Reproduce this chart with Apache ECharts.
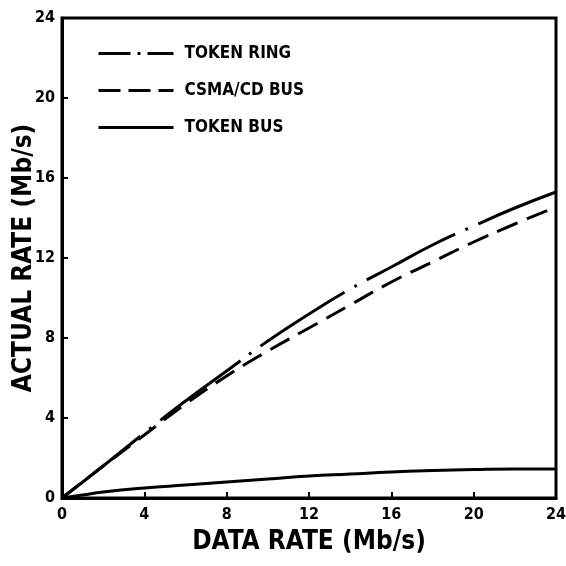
<!DOCTYPE html>
<html>
<head>
<meta charset="utf-8">
<script src="https://cdn.jsdelivr.net/npm/echarts@6/dist/echarts.min.js"></script>
<style>
  html, body { margin: 0; padding: 0; background: #fff; }
  #chart { width: 566px; height: 566px; }
</style>
</head>
<body>
<div id="chart"></div>
<script>
// values (Mb/s)
const dataRate = [0, 2, 4, 6, 8, 10, 12, 14, 16, 18, 20, 22, 24];
const tokenRing = [0, 1.6, 3.25, 4.85, 6.35, 7.85, 9.2, 10.45, 11.55, 12.65, 13.6, 14.5, 15.3];
const csmaBus = [0, 1.6, 3.15, 4.7, 6.1, 7.35, 8.5, 9.65, 10.8, 11.8, 12.8, 13.7, 14.55];
const tokenBusRate = [0, 1, 2, 4, 6, 8, 10, 12, 14, 16, 18, 20, 22, 24];
const tokenBus = [0, 0.15, 0.3, 0.5, 0.65, 0.8, 0.95, 1.1, 1.2, 1.3, 1.37, 1.42, 1.45, 1.45];
const seriesNames = ['TOKEN RING', 'CSMA/CD BUS', 'TOKEN BUS'];

const font = '"DejaVu Sans Condensed", "Liberation Sans Narrow", sans-serif';

function pairs(xs, ys) {
    return xs.map(function (x, i) {
        return [x, ys[i]];
    });
}

const myChart = echarts.init(document.getElementById('chart'), null, { renderer: 'canvas' });
const option = {
    backgroundColor: '#fff',
    animation: false,
    color: ['#000', '#000', '#000'],
    grid: {
        left: 62,
        right: 10,
        top: 18,
        bottom: 68,
        containLabel: false,
        outerBoundsMode: 'none',
        show: true,
        borderColor: '#000',
        borderWidth: 3,
    },
    legend: {
        orient: 'vertical',
        left: 97,
        top: 45,
        padding: 0,
        itemWidth: 75,
        itemHeight: 14,
        itemGap: 20,
        itemStyle: { color: 'rgba(0,0,0,0)', borderWidth: 0 },
        textStyle: {
            fontFamily: font,
            fontWeight: 'bold',
            fontSize: 17,
            color: '#000',
            padding: [0, 0, 0, 6],
        },
        data: [
            { name: seriesNames[0], lineStyle: { type: [32, 7, 3, 7], width: 3 } },
            { name: seriesNames[1], lineStyle: { type: [22, 8], width: 3 } },
            { name: seriesNames[2], lineStyle: { type: 'solid', width: 3 } },
        ],
    },
    xAxis: {
        type: 'value',
        min: 0,
        max: 24,
        interval: 4,
        name: 'DATA RATE (Mb/s)',
        nameLocation: 'middle',
        nameGap: 31,
        nameMoveOverlap: false,
        nameTextStyle: {
            fontFamily: font,
            fontWeight: 'bold',
            fontSize: 26,
            color: '#000',
        },
        axisLine: { lineStyle: { color: '#000', width: 3 } },
        axisTick: { inside: true, length: 6, lineStyle: { color: '#000', width: 2 } },
        axisLabel: {
            margin: 9,
            fontFamily: font,
            fontWeight: 'bold',
            fontSize: 16,
            color: '#000',
        },
        splitLine: { show: false },
    },
    yAxis: {
        type: 'value',
        min: 0,
        max: 24,
        interval: 4,
        name: 'ACTUAL RATE (Mb/s)',
        nameLocation: 'middle',
        nameGap: 25,
        nameMoveOverlap: false,
        nameTextStyle: {
            fontFamily: font,
            fontWeight: 'bold',
            fontSize: 26,
            color: '#000',
        },
        axisLine: { lineStyle: { color: '#000', width: 3 } },
        axisTick: { inside: true, length: 6, lineStyle: { color: '#000', width: 2 } },
        axisLabel: {
            margin: 7,
            fontFamily: font,
            fontWeight: 'bold',
            fontSize: 16,
            color: '#000',
        },
        splitLine: { show: false },
    },
    series: [
        {
            name: seriesNames[0],
            type: 'line',
            smooth: true,
            symbol: 'none',
            lineStyle: { color: '#000', width: 3, type: [100, 11, 3, 11] },
            data: pairs(dataRate, tokenRing),
        },
        {
            name: seriesNames[1],
            type: 'line',
            smooth: true,
            symbol: 'none',
            lineStyle: { color: '#000', width: 3, type: [22, 10] },
            data: pairs(dataRate, csmaBus),
        },
        {
            name: seriesNames[2],
            type: 'line',
            smooth: true,
            symbol: 'none',
            lineStyle: { color: '#000', width: 3, type: 'solid' },
            data: pairs(tokenBusRate, tokenBus),
        },
    ],
};
myChart.setOption(option);
window.addEventListener('resize', myChart.resize);
</script>
</body>
</html>
